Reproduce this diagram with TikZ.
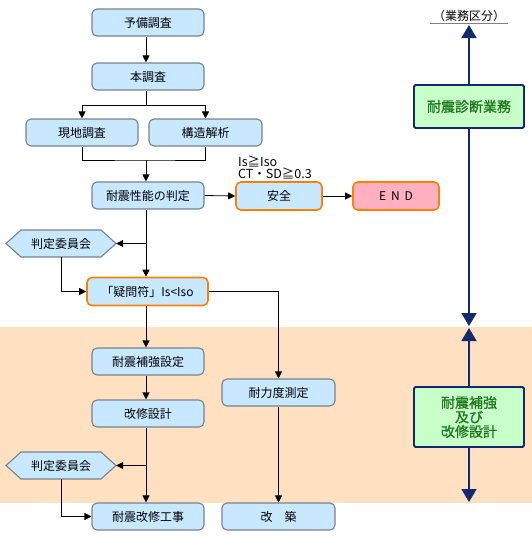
\documentclass[tikz,border=0pt]{standalone}
\usepackage{fontspec}
\setmainfont{Noto Sans CJK JP}
\newfontfamily\greenfont[FakeBold=1.2]{Noto Sans CJK JP}
\usetikzlibrary{arrows.meta,calc}
\definecolor{boxfill}{RGB}{200,232,255}
\definecolor{boxline}{RGB}{120,130,140}
\definecolor{orangeline}{RGB}{255,128,0}
\definecolor{pinkfill}{RGB}{255,176,192}
\definecolor{peach}{RGB}{255,224,192}
\definecolor{navyc}{RGB}{20,40,110}
\definecolor{greenfill}{RGB}{200,255,200}
\definecolor{greentext}{RGB}{30,120,30}
\begin{document}
\begin{tikzpicture}[x=1pt,y=-1pt,
  box/.style={draw=boxline, line width=1.1pt, fill=boxfill, rounded corners=5pt,
    minimum width=112pt, minimum height=27pt, inner sep=0pt, font=\fontsize{12}{14}\selectfont},
  okbox/.style={box, draw=orangeline, line width=1.6pt},
  hexfill/.style={draw=boxline, line width=1.1pt, fill=boxfill},
  hexlabel/.style={minimum width=110pt, minimum height=27pt, inner sep=0pt, font=\fontsize{12}{14}\selectfont},
  gbox/.style={draw=navyc, line width=1.8pt, fill=greenfill, rounded corners=1.5pt,
    minimum width=110pt, inner sep=0pt, align=center, text=greentext,
    font=\greenfont\fontsize{14}{14.5}\selectfont},
  conn/.style={line width=0.8pt, black},
  arr/.style={conn, -{Triangle[length=7pt,width=7pt]}},
  narr/.style={line width=1.8pt, navyc, -{Triangle[length=13pt,width=15pt]}}
]
\useasboundingbox (0,0) rectangle (532,542);
\fill[peach] (0,327) rectangle (532,503);

% main column boxes
\node[box] (yobi) at (148,22.5) {予備調査};
\node[box] (hon) at (148,76.5) {本調査};
\node[box] (genchi) at (82,132.5) {現地調査};
\node[box, minimum width=113pt] (kozo) at (205.5,132.5) {構造解析};
\node[box] (hantei) at (148,195.5) {耐震性能の判定};
\node[okbox, minimum width=86pt, minimum height=28pt] (anzen) at (279,196) {安全};
\node[okbox, fill=pinkfill, minimum width=86pt, minimum height=28pt] (endn) at (396,196) {E\hspace{5pt}N\hspace{5pt}D};
\node[align=left, anchor=north west, inner sep=0pt, font=\fontsize{12.5}{11}\selectfont] (cond) at (238,156) {Is≧Iso\\CT・SD≧0.3};

% committee 1
\path[hexfill] (6,243.5) -- (21,230) -- (101,230) -- (116,243.5) -- (101,257) -- (21,257) -- cycle;
\node[hexlabel] (iin1) at (61,243.5) {判定委員会};

\node[okbox, minimum width=121pt, minimum height=28pt] (gimon) at (147.5,291.5) {「疑問符」Is<Iso};
\node[box] (hokyo) at (148,361.5) {耐震補強設定};
\node[box, minimum width=113pt] (tairyoku) at (278.5,392.5) {耐力度測定};
\node[box] (kaishu) at (148,413.5) {改修設計};

% committee 2
\path[hexfill] (6,465.5) -- (21,452) -- (101,452) -- (116,465.5) -- (101,479) -- (21,479) -- cycle;
\node[hexlabel] (iin2) at (61,465.5) {判定委員会};

\node[box] (koji) at (148,516.5) {耐震改修工事};
\node[box, minimum width=113pt] (kaichiku) at (278.5,516.5) {改　築};

% connectors
\coordinate (mx) at (146,0);
\draw[arr] (yobi.south -| mx) -- (hon.north -| mx);
\coordinate (s1) at (146,105);
\draw[conn] (hon.south -| mx) -- (s1);
\draw[arr] (s1) -| (genchi.north);
\draw[arr] (s1) -| (kozo.north);
\coordinate (m1) at (146,160);
\draw[conn] (genchi.south) |- (m1) -| (kozo.south);
\draw[arr] (m1) -- (hantei.north -| mx);
\draw[arr] (hantei.east) -- (anzen.west);
\draw[arr] (anzen.east) -- (endn.west);
\draw[arr] (hantei.south -| mx) -- (gimon.north -| mx);
\coordinate (b1) at (146,243.5);
\draw[arr] (b1) -- (iin1.east);
\draw[arr] (iin1.south) |- (gimon.west);
\draw[arr] (gimon.east) -| (tairyoku.north);
\draw[arr] (gimon.south -| mx) -- (hokyo.north -| mx);
\draw[arr] (hokyo.south -| mx) -- (kaishu.north -| mx);
\draw[arr] (kaishu.south -| mx) -- (koji.north -| mx);
\coordinate (b2) at (146,465.5);
\draw[arr] (b2) -- (iin2.east);
\draw[arr] (iin2.south) |- (koji.west);
\draw[arr] (tairyoku.south) -- (kaichiku.north);

% right side
\node[inner sep=0pt, minimum width=78pt, font=\fontsize{12}{14}\selectfont] (kubun) at (469,16) {（業務区分）};
\draw[line width=0.8pt, gray] ([yshift=-1.5pt]kubun.south west) -- ([yshift=-1.5pt]kubun.south east);
\node[gbox, minimum height=43pt] (g1) at (469,106.5) {耐震診断業務};
\node[gbox, minimum height=60pt] (g2) at (469,417) {耐震補強\\及び\\改修設計};
\coordinate (t1) at (469,25);
\coordinate (d1) at (469,326);
\coordinate (u2) at (469,328);
\coordinate (d2) at (469,502);
\draw[narr] (g1.north) -- (t1);
\draw[narr] (g1.south) -- (d1);
\draw[narr] (g2.north) -- (u2);
\draw[narr] (g2.south) -- (d2);
\end{tikzpicture}
\end{document}
